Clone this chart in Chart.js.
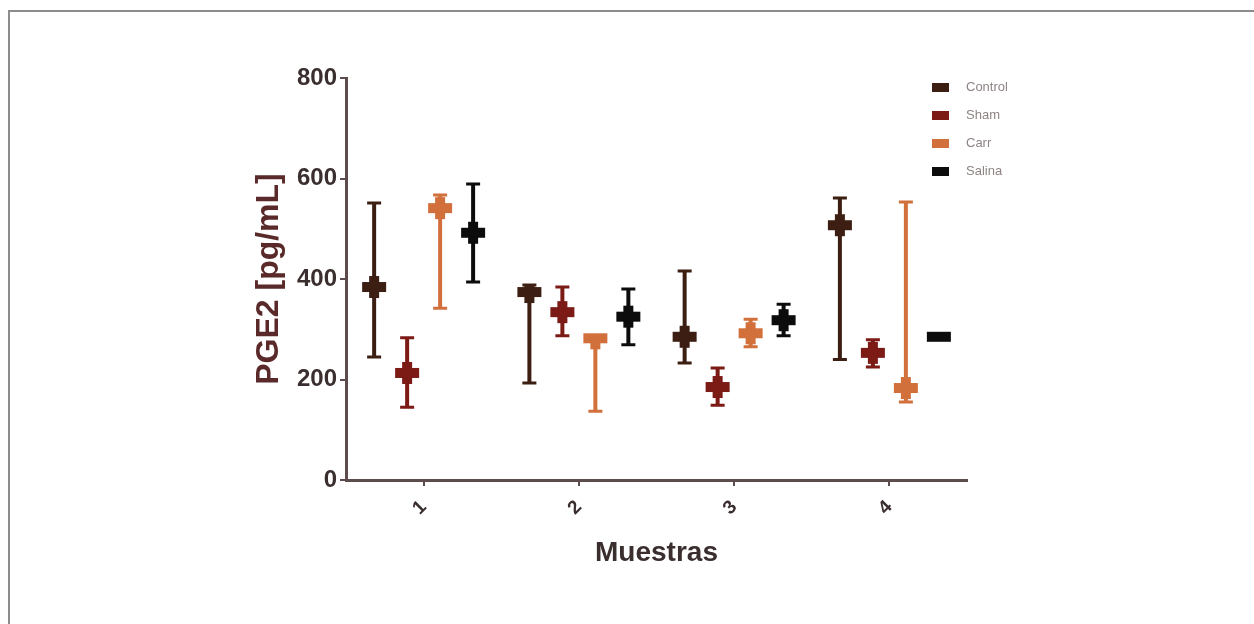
<!DOCTYPE html>
<html lang="es">
<head>
    <meta charset="UTF-8">
    <title>PGE2 por muestra</title>
    <script src="https://cdn.jsdelivr.net/npm/chart.js"></script>
    <style>
        body { margin: 0; background: #fff; }
        #wrap { position: relative; width: 1254px; height: 624px; }
        #frame { position: absolute; left: 8px; top: 10px; right: 0; bottom: 0;
                 border-top: 2px solid #8c8c8c; border-left: 2px solid #8c8c8c; }
        #chart { position: absolute; left: 0; top: 0; }
    </style>
</head>
<body>
<div id="wrap">
    <div id="frame"></div>
    <canvas id="chart" width="1254" height="624"></canvas>
</div>

<script>
    // data (pg/mL)
    var muestras = ["1", "2", "3", "4"];
    var grupos = ["Control", "Sham", "Carr", "Salina"];
    var colores = ["#3c1e12", "#7c1a16", "#d2703c", "#0c0c0c"];

    var controlMedia = [384, 374, 285, 507];
    var controlMin   = [245, 193, 233, 240];
    var controlMax   = [551, 388, 416, 561];

    var shamMedia = [213, 334, 185, 253];
    var shamMin   = [145, 287, 149, 225];
    var shamMax   = [283, 384, 223, 279];

    var carrMedia = [541, 282, 292, 183];
    var carrMin   = [342, 137, 265, 155];
    var carrMax   = [567, 287, 320, 553];

    var salinaMedia = [492, 325, 318, 285];
    var salinaMin   = [394, 269, 287, 281];
    var salinaMax   = [589, 380, 350, 289];

    var yTicks = [0, 200, 400, 600, 800];

    var medias = [controlMedia, shamMedia, carrMedia, salinaMedia];
    var minimos = [controlMin, shamMin, carrMin, salinaMin];
    var maximos = [controlMax, shamMax, carrMax, salinaMax];

    var ejeColor = "#5c4c4c";
    var fuente = "'Liberation Sans', Arial, sans-serif";

    // draws whiskers + the "+" mean mark on top of the (invisible) bars
    var errorBars = {
        id: "errorBars",
        afterDatasetsDraw: function(chart) {
            var ctx = chart.ctx;
            var y = chart.scales.y;
            chart.data.datasets.forEach(function(ds, d) {
                var meta = chart.getDatasetMeta(d);
                meta.data.forEach(function(bar, i) {
                    var x = bar.x;
                    var yLo = y.getPixelForValue(minimos[d][i]);
                    var yHi = y.getPixelForValue(maximos[d][i]);
                    var yM = y.getPixelForValue(medias[d][i]);
                    ctx.save();
                    ctx.strokeStyle = colores[d];
                    ctx.fillStyle = colores[d];
                    ctx.lineWidth = 4;
                    ctx.beginPath();
                    ctx.moveTo(x, yLo);
                    ctx.lineTo(x, yHi);
                    ctx.stroke();
                    ctx.lineWidth = 3;
                    ctx.beginPath();
                    ctx.moveTo(x - 7, yLo); ctx.lineTo(x + 7, yLo);
                    ctx.moveTo(x - 7, yHi); ctx.lineTo(x + 7, yHi);
                    ctx.stroke();
                    // cross shaped mean marker, vertical arm kept inside the whisker
                    ctx.fillRect(x - 12, yM - 5, 24, 10);
                    var top = Math.max(yM - 11, yHi);
                    var bot = Math.min(yM + 11, yLo);
                    if (bot > top) ctx.fillRect(x - 5, top, 10, bot - top);
                    ctx.restore();
                });
            });
        }
    };

    // small legend in the top right corner
    var leyenda = {
        id: "leyenda",
        afterDraw: function(chart) {
            var ctx = chart.ctx;
            ctx.save();
            ctx.font = "13px " + fuente;
            ctx.textBaseline = "middle";
            chart.data.datasets.forEach(function(ds, d) {
                var yy = 87 + d * 28;
                ctx.fillStyle = colores[d];
                ctx.fillRect(932, yy - 4, 17, 9);
                ctx.fillStyle = "#8f8484";
                ctx.fillText(ds.label, 966, yy);
            });
            ctx.restore();
        }
    };

    var datasets = grupos.map(function(g, d) {
        return {
            label: g,
            data: medias[d],
            backgroundColor: "rgba(0,0,0,0)",
            borderWidth: 0,
            categoryPercentage: 0.85,
            barPercentage: 1.0
        };
    });

    new Chart(document.getElementById("chart"), {
        type: "bar",
        data: { labels: muestras, datasets: datasets },
        plugins: [errorBars, leyenda],
        options: {
            responsive: false,
            animation: false,
            layout: { padding: { left: 246, right: 287, top: 78, bottom: 54 } },
            plugins: {
                legend: { display: false },
                tooltip: { enabled: false }
            },
            scales: {
                x: {
                    afterFit: function(s) { s.height = 90; },
                    border: { display: true, color: ejeColor, width: 3 },
                    grid: { display: true, offset: false, drawOnChartArea: false, drawTicks: true, tickLength: 6, color: ejeColor, lineWidth: 2 },
                    ticks: {
                        minRotation: 45, maxRotation: 45,
                        padding: 10,
                        color: "#3a2e2e",
                        font: { family: fuente, size: 19, weight: "bold" }
                    },
                    title: {
                        display: true, text: "Muestras", color: "#3a2e2e",
                        padding: { top: 0, bottom: 0 },
                        font: { family: fuente, size: 28, weight: "bold" }
                    }
                },
                y: {
                    min: 0, max: 800,
                    afterFit: function(s) { s.width = 100; },
                    afterBuildTicks: function(s) { s.ticks = yTicks.map(function(v) { return { value: v }; }); },
                    border: { display: true, color: ejeColor, width: 3 },
                    grid: { display: true, drawOnChartArea: false, drawTicks: true, tickLength: 6, color: ejeColor, lineWidth: 2 },
                    ticks: {
                        padding: 3,
                        color: "#3a2e2e",
                        font: { family: fuente, size: 24, weight: "bold" }
                    },
                    title: {
                        display: true, text: "PGE2 [pg/mL]", color: "#5a2a2a",
                        padding: { top: 4, bottom: 0 },
                        font: { family: fuente, size: 32, weight: "bold" }
                    }
                }
            }
        }
    });
</script>
</body>
</html>
